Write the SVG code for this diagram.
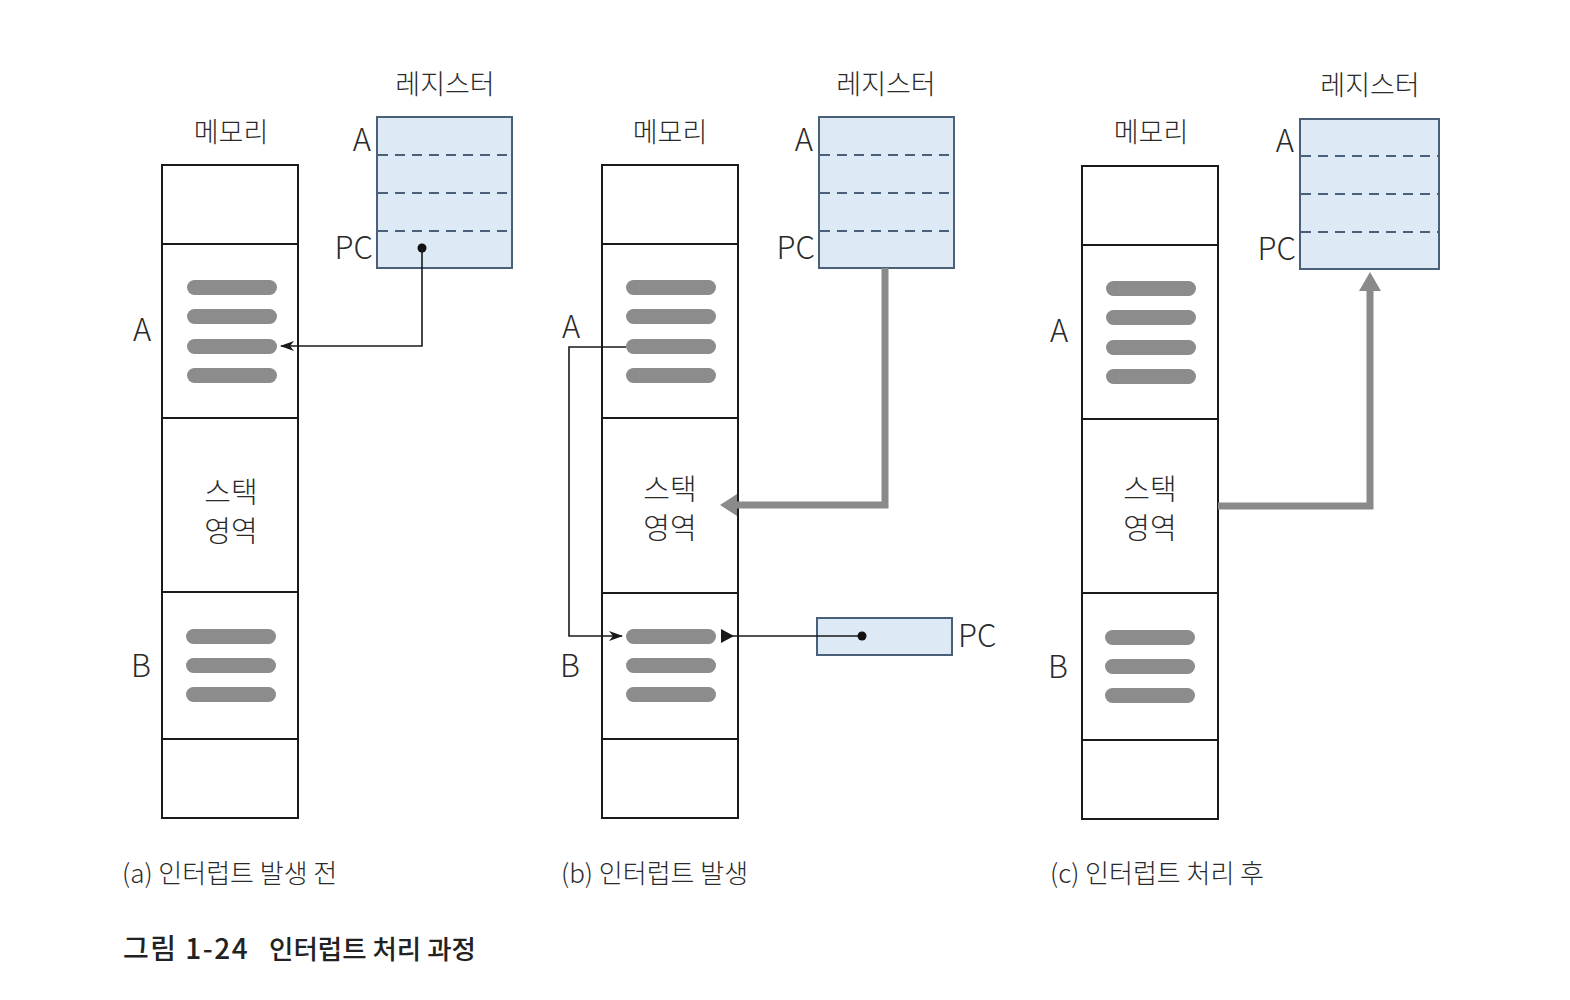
<svg xmlns="http://www.w3.org/2000/svg" width="1570" height="1000" viewBox="0 0 1570 1000">
<defs>
<style>
.mem{fill:#fff;stroke:#1a1a1a;stroke-width:2}
.div{stroke:#1a1a1a;stroke-width:2}
.reg{fill:#dde9f4;stroke:#4a5f78;stroke-width:2}
.dash{stroke:#4a5f78;stroke-width:2;stroke-dasharray:10,7}
.bar{fill:#8c8c8c}
.t{font-family:"Noto Sans CJK KR","Liberation Sans",sans-serif;fill:#2a2a2a;font-weight:300}
.l{font-family:"Noto Sans CJK KR","Liberation Sans",sans-serif;fill:#2a2a2a;font-weight:300;font-size:31px}
.s{font-family:"Noto Sans CJK KR","Liberation Sans",sans-serif;fill:#2a2a2a;font-weight:300;font-size:29px;text-anchor:middle}
.thin{fill:none;stroke:#1a1a1a;stroke-width:1.6}
.thick{fill:none;stroke:#8a8a8a;stroke-width:7}
</style>
<marker id="ah" viewBox="0 0 14 12" refX="13" refY="6" markerWidth="14" markerHeight="12" markerUnits="userSpaceOnUse" orient="auto"><path d="M0,1 L14,6 L0,11 L4,6 Z" fill="#1a1a1a"/></marker>
<g id="bars"><rect class="bar" x="0" y="-7" width="90" height="15" rx="7.5"/></g>
</defs>
<rect width="1570" height="1000" fill="#fff"/>

<!-- Panel a -->
<g id="mem-a">
<text class="t" x="231" y="142" font-size="27" text-anchor="middle">메모리</text>
<rect class="mem" x="162" y="165" width="136" height="653"/>
<line class="div" x1="162" y1="244" x2="298" y2="244"/>
<line class="div" x1="162" y1="418" x2="298" y2="418"/>
<line class="div" x1="162" y1="592" x2="298" y2="592"/>
<line class="div" x1="162" y1="739" x2="298" y2="739"/>
<use href="#bars" x="187" y="287"/><use href="#bars" x="187" y="316"/><use href="#bars" x="187" y="346"/><use href="#bars" x="187" y="375"/>
<use href="#bars" x="186" y="636"/><use href="#bars" x="186" y="665"/><use href="#bars" x="186" y="694"/>
<text class="s" x="231" y="503">스택</text>
<text class="s" x="231" y="542">영역</text>
<text class="l" x="142" y="341" text-anchor="middle">A</text>
<text class="l" x="141" y="677" text-anchor="middle">B</text>
</g>
<g id="reg-a">
<text class="t" x="445" y="94" font-size="27" text-anchor="middle">레지스터</text>
<rect class="reg" x="377" y="117" width="135" height="151"/>
<line class="dash" x1="378" y1="155" x2="512" y2="155"/>
<line class="dash" x1="378" y1="193" x2="512" y2="193"/>
<line class="dash" x1="378" y1="231" x2="512" y2="231"/>
<text class="l" x="371" y="151" text-anchor="end">A</text>
<text class="l" x="373" y="259" text-anchor="end">PC</text>
</g>

<!-- Panel b -->
<g id="mem-b">
<text class="t" x="670" y="142" font-size="27" text-anchor="middle">메모리</text>
<rect class="mem" x="602" y="165" width="136" height="653"/>
<line class="div" x1="602" y1="244" x2="738" y2="244"/>
<line class="div" x1="602" y1="418" x2="738" y2="418"/>
<line class="div" x1="602" y1="593" x2="738" y2="593"/>
<line class="div" x1="602" y1="739" x2="738" y2="739"/>
<use href="#bars" x="626" y="287"/><use href="#bars" x="626" y="316"/><use href="#bars" x="626" y="346"/><use href="#bars" x="626" y="375"/>
<use href="#bars" x="626" y="636"/><use href="#bars" x="626" y="665"/><use href="#bars" x="626" y="694"/>
<text class="s" x="670" y="500">스택</text>
<text class="s" x="670" y="539">영역</text>
<text class="l" x="571" y="338" text-anchor="middle">A</text>
<text class="l" x="570" y="677" text-anchor="middle">B</text>
</g>
<g id="reg-b">
<text class="t" x="886" y="94" font-size="27" text-anchor="middle">레지스터</text>
<rect class="reg" x="819" y="117" width="135" height="151"/>
<line class="dash" x1="820" y1="155" x2="954" y2="155"/>
<line class="dash" x1="820" y1="193" x2="954" y2="193"/>
<line class="dash" x1="820" y1="231" x2="954" y2="231"/>
<text class="l" x="813" y="151" text-anchor="end">A</text>
<text class="l" x="815" y="259" text-anchor="end">PC</text>
</g>
<g id="pc-b">
<rect class="reg" x="817" y="618" width="135" height="37"/>
<text class="l" x="958" y="647">PC</text>
</g>

<!-- Panel c -->
<g id="mem-c">
<text class="t" x="1151" y="142" font-size="27" text-anchor="middle">메모리</text>
<rect class="mem" x="1082" y="166" width="136" height="653"/>
<line class="div" x1="1082" y1="245" x2="1218" y2="245"/>
<line class="div" x1="1082" y1="419" x2="1218" y2="419"/>
<line class="div" x1="1082" y1="593" x2="1218" y2="593"/>
<line class="div" x1="1082" y1="740" x2="1218" y2="740"/>
<use href="#bars" x="1106" y="288"/><use href="#bars" x="1106" y="317"/><use href="#bars" x="1106" y="347"/><use href="#bars" x="1106" y="376"/>
<use href="#bars" x="1105" y="637"/><use href="#bars" x="1105" y="666"/><use href="#bars" x="1105" y="695"/>
<text class="s" x="1150" y="500">스택</text>
<text class="s" x="1150" y="539">영역</text>
<text class="l" x="1059" y="342" text-anchor="middle">A</text>
<text class="l" x="1058" y="678" text-anchor="middle">B</text>
</g>
<g id="reg-c">
<text class="t" x="1370" y="95" font-size="27" text-anchor="middle">레지스터</text>
<rect class="reg" x="1300" y="119" width="139" height="150"/>
<line class="dash" x1="1301" y1="156" x2="1439" y2="156"/>
<line class="dash" x1="1301" y1="194" x2="1439" y2="194"/>
<line class="dash" x1="1301" y1="232" x2="1439" y2="232"/>
<text class="l" x="1294" y="152" text-anchor="end">A</text>
<text class="l" x="1296" y="260" text-anchor="end">PC</text>
</g>

<!-- Connectors -->
<g id="connectors">
<circle cx="422" cy="248" r="4.5" fill="#111"/>
<path class="thin" d="M422,248 V346 H281" marker-end="url(#ah)"/>

<path class="thick" d="M885,268 V505 H736"/>
<path d="M720,505 L737,494 L737,516 Z" fill="#8a8a8a"/>

<path class="thin" d="M626,347 H569 V636 H622" marker-end="url(#ah)"/>
<path d="M721,629 L734,636 L721,643 Z" fill="#1a1a1a"/>
<path class="thin" d="M728,636 H862"/>
<circle cx="862" cy="636" r="4.5" fill="#111"/>

<path class="thick" d="M1218,506 H1370 V290"/>
<path d="M1370,272 L1359,291 L1381,291 Z" fill="#8a8a8a"/>
</g>

<!-- Captions -->
<g id="captions">
<text class="t" x="122" y="883" font-size="26">(a) 인터럽트 발생 전</text>
<text class="t" x="561" y="883" font-size="26">(b) 인터럽트 발생</text>
<text class="t" x="1050" y="883" font-size="26">(c) 인터럽트 처리 후</text>
<text x="123" y="959" font-size="28" font-weight="500" fill="#222" font-family="Noto Sans CJK KR, sans-serif" letter-spacing="1.5">그림 1-24<tspan x="269" font-size="26.5" letter-spacing="0">인터럽트 처리 과정</tspan></text>
</g>
</svg>
